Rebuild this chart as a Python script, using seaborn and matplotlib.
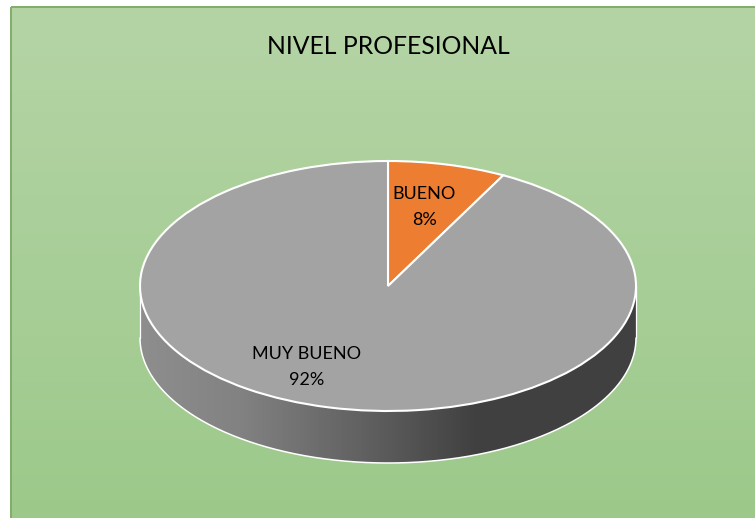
import numpy as np
import matplotlib
matplotlib.use("Agg")
import matplotlib.pyplot as plt
from matplotlib.colors import LinearSegmentedColormap
from matplotlib.patches import Rectangle
import seaborn as sns

categories = ["BUENO", "MUY BUENO"]
counts = [1, 12]
percent_labels = ["8%", "92%"]
slice_colors = ["#ED7D31", "#A3A3A3"]
title_text = "NIVEL PROFESIONAL"

sns.set_theme(style="white")
plt.rcParams["font.family"] = ["Lato", "DejaVu Sans"]

W, H = 755, 518
fig = plt.figure(figsize=(W / 100, H / 100), dpi=100, facecolor="white")

# pixel-space canvas for background and pie wall
bg = fig.add_axes([0, 0, 1, 1])
green = LinearSegmentedColormap.from_list("g", ["#B5D4A6", "#9CC98A"])
bg.imshow(np.linspace(0, 1, 256).reshape(-1, 1), cmap=green, aspect="auto",
          extent=(11, W + 5, H + 5, 7), zorder=0)
bg.add_patch(Rectangle((11, 7), W, H + 5, fill=False, edgecolor="#7FAE68", lw=1.4, zorder=1))

cx, cy, rx, ry, depth = 388, 286, 248, 125, 52
t = np.linspace(0, np.pi, 300)
xs = cx + rx * np.cos(t)
ys = cy + ry * np.sin(t)
wx = np.r_[xs, xs[::-1]]
wy = np.r_[ys + depth, ys[::-1]]
wall_cmap = LinearSegmentedColormap.from_list(
    "w", [(0, "#8E8E8E"), (0.2, "#828282"), (0.5, "#5A5A5A"), (0.68, "#404040"), (1, "#404040")])
wall = bg.imshow(np.linspace(0, 1, 256).reshape(1, -1), cmap=wall_cmap, aspect="auto",
                 extent=(cx - rx, cx + rx, cy + ry + depth, cy), zorder=2)
clip, = bg.fill(wx, wy, facecolor="none", edgecolor="none", zorder=2)
wall.set_clip_path(clip)
bg.plot(xs, ys + depth, color="white", lw=1.1, zorder=3)
bg.plot([cx - rx, cx - rx], [cy, cy + depth], color="white", lw=0.9, zorder=3)
bg.plot([cx + rx, cx + rx], [cy, cy + depth], color="white", lw=0.9, zorder=3)
bg.set_xlim(0, W)
bg.set_ylim(H, 0)
bg.axis("off")

# pie top, squashed by a non-equal aspect
ax = fig.add_axes([(cx - rx) / W, 1 - (cy + ry) / H, 2 * rx / W, 2 * ry / H])
ax.patch.set_alpha(0)
ax.pie(counts, colors=slice_colors, startangle=90, counterclock=False, radius=1,
       wedgeprops=dict(edgecolor="white", linewidth=1.5, clip_on=False))
ax.set_aspect("auto")
ax.set_xlim(-1, 1)
ax.set_ylim(-1, 1)

label_pos = [(424.5, 207), (306.5, 367)]
for c, p, (x, y) in zip(categories, percent_labels, label_pos):
    fig.text(x / W, 1 - y / H, f"{c}\n{p}", ha="center", va="center", fontsize=13,
             color="black", linespacing=1.8)
fig.text(388.5 / W, 1 - 47 / H, title_text, ha="center", va="center", fontsize=17.8, color="black")

fig.savefig("out.png", dpi=100)
